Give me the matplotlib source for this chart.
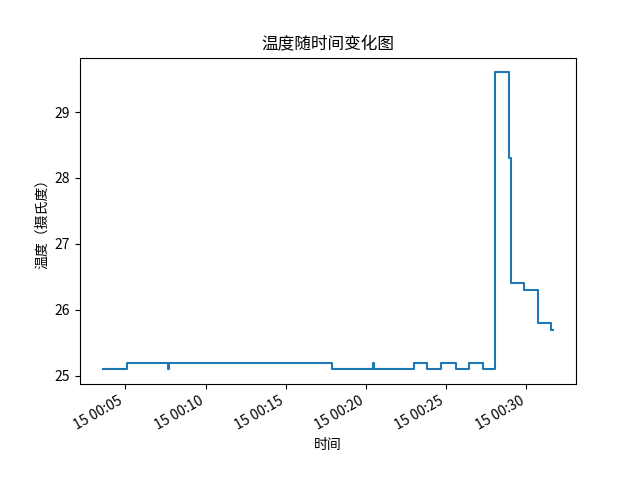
import pandas as pd
import matplotlib
matplotlib.use('Agg')
import matplotlib.pyplot as plt

plt.rcParams['font.family'] = ['Noto Sans CJK SC', 'DejaVu Sans']
plt.rcParams['axes.unicode_minus'] = False

# 温度变化时刻 (steps)
times = ['00:03:35', '00:05:06', '00:07:38', '00:07:42', '00:17:54',
         '00:20:26', '00:20:30', '00:23:01', '00:23:50', '00:24:40',
         '00:25:35', '00:26:27', '00:27:17', '00:28:04', '00:28:56',
         '00:29:01', '00:29:52', '00:30:43', '00:31:32', '00:31:41']
temps = [25.1, 25.2, 25.1, 25.2, 25.1,
         25.2, 25.1, 25.2, 25.1, 25.2,
         25.1, 25.2, 25.1, 29.6, 28.3,
         26.4, 26.3, 25.8, 25.7, 25.7]

t = pd.to_datetime(['2024-01-15 ' + s for s in times])

fig, ax = plt.subplots(figsize=(6.4, 4.8), dpi=100)
ax.plot(t, temps, drawstyle='steps-post')
ax.set_title('温度随时间变化图')
ax.set_xlabel('时间')
ax.set_ylabel('温度（摄氏度）')
fig.autofmt_xdate()
fig.savefig('out.png')
